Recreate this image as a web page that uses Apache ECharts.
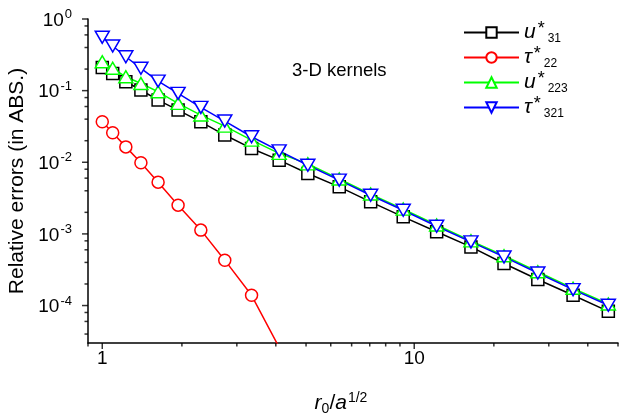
<!DOCTYPE html>
<html>
<head>
<meta charset="utf-8">
<script src="https://cdn.jsdelivr.net/npm/echarts@6/dist/echarts.min.js"></script>
<style>
  html, body { margin: 0; padding: 0; background: #fff; }
  #chart { width: 619px; height: 416px; }
</style>
</head>
<body>
<div id="chart"></div>
<script>
// r0 / a^(1/2) sample points shared by all kernels
const xValues = [1.0, 1.08, 1.19, 1.33, 1.51, 1.75, 2.07, 2.47, 3.01, 3.69,
                 4.56, 5.75, 7.25, 9.22, 11.8, 15.2, 19.4, 24.9, 32.3, 41.9];

// relative errors of each kernel
const u31    = [0.21, 0.174, 0.133, 0.102, 0.0738, 0.0535, 0.0367, 0.0240, 0.0156, 0.0107,
                0.00698, 0.00454, 0.0028, 0.00173, 0.00107, 0.000659, 0.000386, 0.000231, 0.000139, 0.000083];
const tau22  = [0.0367, 0.0258, 0.0164, 0.00982, 0.00528, 0.00252, 0.00113, 0.00043, 0.000139, 0.000026];
const u223   = [0.253, 0.205, 0.156, 0.126, 0.0964, 0.0664, 0.0456, 0.032, 0.0204, 0.0133,
                0.0095, 0.00585, 0.0036, 0.00222, 0.00133, 0.0008, 0.000495, 0.000296, 0.000174, 0.000105];
const tau321 = [0.555, 0.42, 0.297, 0.205, 0.136, 0.0916, 0.0584, 0.0376, 0.0227, 0.0144,
                0.0091, 0.00563, 0.00347, 0.00214, 0.00128, 0.000773, 0.000477, 0.000285, 0.000167, 0.000101];

// axis ranges and ticks
const xMin = 0.9, xMax = 45;
const yMin = 3e-5, yMax = 1;
const xMajorTicks = [1, 10];
const xMinorTicks = [0.9, 1.8, 2.7, 3.6, 4.5, 5.4, 6.3, 7.2, 8.1, 9, 18, 27, 36, 45];
const yMajorTicks = [1e-4, 1e-3, 1e-2, 1e-1, 1];
const yMinorTicks = [4e-5, 6e-5, 8e-5, 2e-4, 4e-4, 6e-4, 8e-4, 2e-3, 4e-3, 6e-3, 8e-3,
                     2e-2, 4e-2, 6e-2, 8e-2, 2e-1, 4e-1, 6e-1, 8e-1];

const FONT = 'Liberation Sans, Arial, sans-serif';
const MAJOR_LEN = 6;
const MINOR_LEN = 3.5;
const TICK_W = 1.5;

function pairs(ys) {
  return ys.map((y, i) => [xValues[i], y]);
}

const chart = echarts.init(document.getElementById('chart'), null, { renderer: 'canvas' });

const axisLineStyle = { color: '#000', width: 1.5 };

function lineSeries(name, ys, color, symbol, size, rotate) {
  return {
    name: name,
    type: 'line',
    data: pairs(ys),
    symbol: symbol,
    symbolSize: size,
    symbolRotate: rotate || 0,
    showSymbol: true,
    clip: true,
    lineStyle: { color: color, width: 1.5 },
    itemStyle: { color: '#fff', borderColor: color, borderWidth: 1.5 },
    emphasis: { disabled: true },
    z: 2
  };
}

// Tick marks as thin bars sitting on the axes: x ticks hang below the
// bottom edge of the plot, y ticks stick out to the left of it.
function xTickSeries(values, len) {
  return {
    type: 'scatter', silent: true, clip: false, z: 3,
    data: values.map(v => [v, yMin]),
    symbol: 'rect', symbolSize: [TICK_W, len], symbolOffset: [0, len / 2],
    itemStyle: { color: '#000' },
    emphasis: { disabled: true }
  };
}
function yTickSeries(values, len) {
  return {
    type: 'scatter', silent: true, clip: false, z: 3,
    data: values.map(v => [xMin, v]),
    symbol: 'rect', symbolSize: [len, TICK_W], symbolOffset: [-len / 2, 0],
    itemStyle: { color: '#000' },
    emphasis: { disabled: true }
  };
}

const legendLabels = {
  u31:    '{v|u}{st|*}{sb|31}',
  tau22:  '{v|τ}{st|*}{sb|22}',
  u223:   '{v|u}{st|*}{sb|223}',
  tau321: '{v|τ}{st|*}{sb|321}'
};

chart.setOption({
  animation: false,
  backgroundColor: '#fff',
  grid: { left: 88, right: 1, top: 19, bottom: 73, containLabel: false, outerBoundsMode: 'none' },
  legend: {
    orient: 'vertical',
    left: 463,
    top: 20,
    padding: 0,
    itemGap: 0,
    itemWidth: 55,
    itemHeight: 13,
    data: ['u31', 'tau22', 'u223', 'tau321'],
    formatter: name => legendLabels[name],
    textStyle: {
      fontFamily: FONT,
      color: '#000',
      rich: {
        v:  { fontFamily: FONT, fontSize: 21, fontStyle: 'italic', lineHeight: 25, color: '#000' },
        st: { fontFamily: FONT, fontSize: 18, lineHeight: 9, verticalAlign: 'top', padding: [0, 0, 0, 2], color: '#000' },
        sb: { fontFamily: FONT, fontSize: 12, lineHeight: 8, verticalAlign: 'bottom', padding: [0, 0, 0, 3], color: '#000' }
      }
    }
  },
  xAxis: {
    type: 'log', logBase: 10, min: xMin, max: xMax, position: 'bottom',
    axisLine: { show: true, lineStyle: axisLineStyle },
    axisTick: { show: false },
    minorTick: { show: false },
    splitLine: { show: false },
    axisLabel: {
      customValues: xMajorTicks, margin: 6,
      fontFamily: FONT, fontSize: 19, color: '#000',
      formatter: v => String(Math.round(v))
    },
    name: '{r|r}{sb|0}{n|/}{r|a}{sp|1/2}',
    nameLocation: 'middle',
    nameGap: 48,
    nameTextStyle: {
      padding: [0, 24, 0, 0],
      rich: {
        r:  { fontFamily: FONT, fontSize: 21, fontStyle: 'italic', lineHeight: 25, color: '#000' },
        n:  { fontFamily: FONT, fontSize: 21, lineHeight: 25, color: '#000' },
        sb: { fontFamily: FONT, fontSize: 14, lineHeight: 9, verticalAlign: 'bottom', color: '#000' },
        sp: { fontFamily: FONT, fontSize: 14, lineHeight: 10, verticalAlign: 'top', padding: [0, 0, 0, 1], color: '#000' }
      }
    }
  },
  yAxis: {
    type: 'log', logBase: 10, min: yMin, max: yMax, position: 'left',
    axisLine: { show: true, lineStyle: axisLineStyle },
    axisTick: { show: false },
    minorTick: { show: false },
    splitLine: { show: false },
    axisLabel: {
      customValues: yMajorTicks, margin: 16,
      formatter: v => '{b|10}{s|' + Math.round(Math.log10(v)) + '}',
      rich: {
        b: { fontFamily: FONT, fontSize: 19, lineHeight: 22, verticalAlign: 'bottom', color: '#000' },
        s: { fontFamily: FONT, fontSize: 13, lineHeight: 14, verticalAlign: 'top', padding: [0, 0, 14, 1], color: '#000' }
      }
    },
    name: 'Relative errors (in ABS.)',
    nameLocation: 'middle',
    nameGap: 58,
    nameTextStyle: { fontFamily: FONT, fontSize: 21, color: '#000' }
  },
  graphic: [
    {
      type: 'text', left: 292, top: 61,
      style: { text: '3-D kernels', fontFamily: FONT, fontSize: 18.5, fill: '#000' }
    }
  ],
  series: [
    xTickSeries(xMajorTicks, MAJOR_LEN),
    xTickSeries(xMinorTicks, MINOR_LEN),
    yTickSeries(yMajorTicks, MAJOR_LEN),
    yTickSeries(yMinorTicks, MINOR_LEN),
    lineSeries('u31', u31, '#000000', 'rect', 12),
    lineSeries('tau22', tau22, '#ff0000', 'circle', 12),
    lineSeries('u223', u223, '#00ff00', 'triangle', [14, 12]),
    lineSeries('tau321', tau321, '#0000ff', 'triangle', [14, 12], 180)
  ]
});
</script>
</body>
</html>
